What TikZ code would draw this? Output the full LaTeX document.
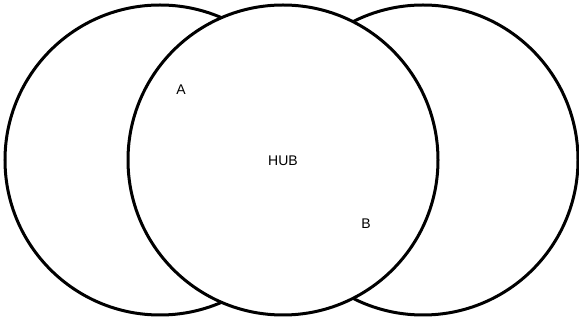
\documentclass[tikz,border=0pt]{standalone}
\usepackage{fontspec}
\setmainfont{Liberation Sans}
\begin{document}
\begin{tikzpicture}[x=1pt,y=-1pt,
  ring/.style={circle,draw=black,line width=3pt,fill=white,minimum size=310pt,inner sep=0pt},
  lbl/.style={font=\fontsize{14}{16}\selectfont,inner sep=0pt}]
\useasboundingbox (0,0) rectangle (579,320);
\node[ring] (left) at (160,160) {};
\node[ring] (right) at (423,160) {};
\node[ring] (hub) at (283,160) {};
\node[lbl] (hubtext) at (283,161) {HUB};
\node[lbl] (a) at (181,90) {A};
\node[lbl] (b) at (366,224) {B};
\end{tikzpicture}
\end{document}
